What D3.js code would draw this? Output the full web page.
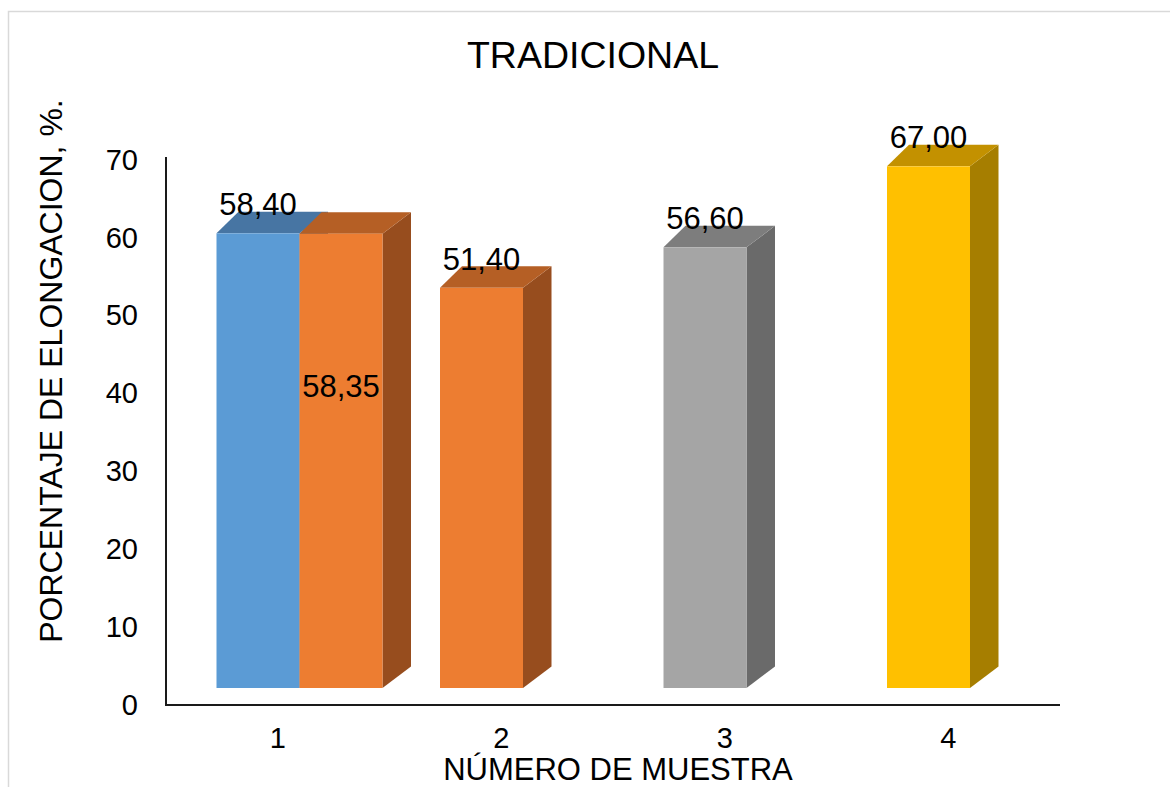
<!DOCTYPE html>
<html>
<head>
<meta charset="utf-8">
<script src="https://cdn.jsdelivr.net/npm/d3@7"></script>
<style>
  html, body { margin: 0; padding: 0; background: #fff; }
  svg { display: block; }
  text { font-family: "Liberation Sans", Arial, sans-serif; fill: #000; }
</style>
</head>
<body>
<svg id="chart" width="1170" height="787"></svg>
<script>
// Sample numbers along the x axis
const categories = ["1", "2", "3", "4"];
// First series (one colour per point) and second series (only in sample 1)
const seriesA = [58.40, 51.40, 56.60, 67.00];
const seriesB = [58.35, null, null, null];
const yTicks = [0, 10, 20, 30, 40, 50, 60, 70];

const chartTitle = "TRADICIONAL";
const yTitle = "PORCENTAJE DE ELONGACION, %.";
const xTitle = "NÚMERO DE MUESTRA";

// Face colours: front, top, side
const palette = {
  blue:   { front: "#5B9BD5", top: "#4775A3", side: "#3F6A95" },
  orange: { front: "#ED7D31", top: "#B55F25", side: "#974D1E" },
  gray:   { front: "#A5A5A5", top: "#7D7D7D", side: "#6A6A6A" },
  yellow: { front: "#FFC000", top: "#C39100", side: "#A67E00" }
};
const pointColorsA = ["blue", "orange", "gray", "yellow"];
const colorB = "orange";

const svg = d3.select("#chart");

// Chart frame
svg.append("rect")
  .attr("x", 8.5).attr("y", 11.5)
  .attr("width", 1200).attr("height", 900)
  .attr("fill", "#fff").attr("stroke", "#d9d9d9").attr("stroke-width", 1.5);

const plot = { left: 166, right: 1060, top: 157, bottom: 705 };
const floorLift = 17;            // floor of the 3D bars sits above the axis line
const depth = { dxL: 22, dxR: 28.5, dy: 21.5 };

const x = d3.scaleBand().domain(categories).range([plot.left, plot.right]);
const xInner = d3.scaleBand().domain([0, 1]).range([50.5, 216.5]);
const y = d3.scaleLinear().domain([0, 70]).range([705, 160]);

const fmt = v => d3.format(".2f")(v).replace(".", ",");

// Build the bar list from the series
const bars = [];
categories.forEach((c, i) => {
  if (seriesA[i] != null) bars.push({ cat: c, s: 0, value: seriesA[i], color: pointColorsA[i] });
  if (seriesB[i] != null) bars.push({ cat: c, s: 1, value: seriesB[i], color: colorB });
});

const barG = svg.append("g");
bars.forEach(b => {
  const x0 = x(b.cat) + xInner(b.s);
  const x1 = x0 + xInner.bandwidth();
  const yb = y(0) - floorLift;
  const yt = y(b.value) - floorLift;
  const col = palette[b.color];
  const g = barG.append("g");
  // side face
  g.append("path")
    .attr("d", `M${x1},${yb} L${x1},${yt} L${x1 + depth.dxR},${yt - depth.dy} L${x1 + depth.dxR},${yb - depth.dy} Z`)
    .attr("fill", col.side);
  // top face
  g.append("path")
    .attr("d", `M${x0},${yt} L${x1},${yt} L${x1 + depth.dxR},${yt - depth.dy} L${x0 + depth.dxL},${yt - depth.dy} Z`)
    .attr("fill", col.top);
  // front face
  g.append("rect")
    .attr("x", x0).attr("y", yt)
    .attr("width", x1 - x0).attr("height", yb - yt)
    .attr("fill", col.front);
});

// Value labels
bars.forEach(b => {
  const x0 = x(b.cat) + xInner(b.s);
  const cx = x0 + xInner.bandwidth() / 2;
  const yt = y(b.value) - floorLift;
  const ly = b.s === 1 ? yt + 163 : yt - 18;
  svg.append("text")
    .attr("x", cx).attr("y", ly)
    .attr("text-anchor", "middle")
    .style("font-size", "31px")
    .text(fmt(b.value));
});

// Axes
const yAxis = d3.axisLeft(y).tickValues(yTicks).tickSize(0).tickPadding(28).tickFormat(d3.format("d"));
const yg = svg.append("g").attr("transform", `translate(${plot.left},0)`).call(yAxis);
yg.select(".domain").remove();
yg.selectAll("text").style("font-size", "29px").style("font-family", '"Liberation Sans", Arial, sans-serif').attr("fill", "#000");

const xAxis = d3.axisBottom(x).tickSize(0).tickPadding(0);
const xg = svg.append("g").attr("transform", `translate(0,${plot.bottom})`).call(xAxis);
xg.select(".domain").remove();
xg.selectAll("text").style("font-size", "29px").style("font-family", '"Liberation Sans", Arial, sans-serif')
  .attr("fill", "#000").attr("dy", null).attr("y", 43);

svg.append("line")
  .attr("x1", plot.left).attr("x2", plot.left)
  .attr("y1", plot.top).attr("y2", plot.bottom + 1)
  .attr("stroke", "#1a1a1a").attr("stroke-width", 2);
svg.append("line")
  .attr("x1", plot.left - 1).attr("x2", plot.right)
  .attr("y1", plot.bottom).attr("y2", plot.bottom)
  .attr("stroke", "#1a1a1a").attr("stroke-width", 2);

// Titles
svg.append("text")
  .attr("x", 593).attr("y", 68)
  .attr("text-anchor", "middle")
  .style("font-size", "37.5px")
  .text(chartTitle);

svg.append("text")
  .attr("transform", "translate(62,371) rotate(-90)")
  .attr("text-anchor", "middle")
  .style("font-size", "32px")
  .text(yTitle);

svg.append("text")
  .attr("x", 618).attr("y", 780)
  .attr("text-anchor", "middle")
  .style("font-size", "31px")
  .text(xTitle);
</script>
</body>
</html>
